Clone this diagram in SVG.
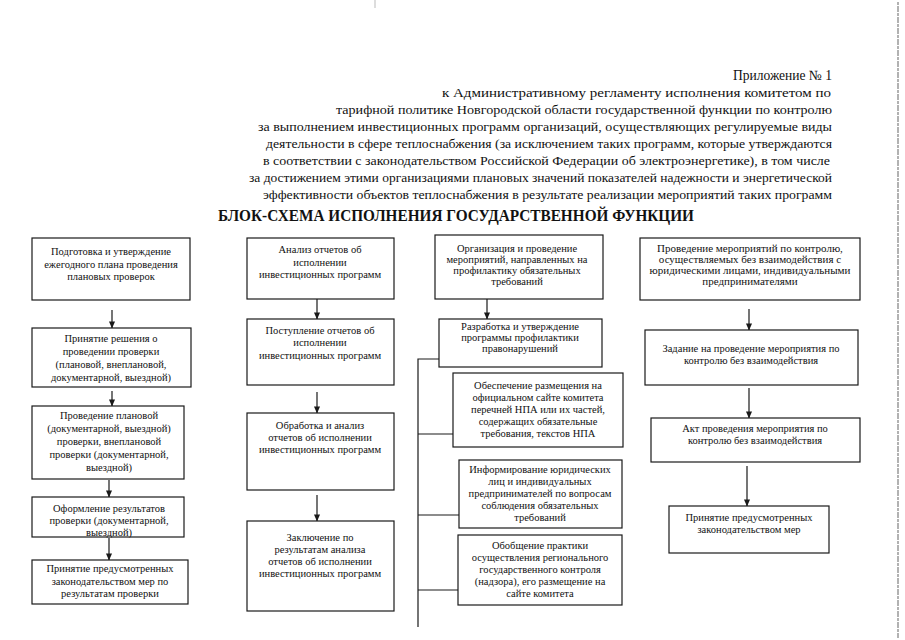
<svg xmlns="http://www.w3.org/2000/svg" width="905" height="640" viewBox="0 0 905 640">
<style>
.bg{fill:#fff}
.box{fill:#fff;stroke:#1a1a1a;stroke-width:1.2}
text{font-family:'Liberation Serif','DejaVu Serif','Times New Roman',serif}
.t{font-size:10.5px;fill:#111;text-anchor:middle}
.h{font-size:13.5px;fill:#111;text-anchor:end}
.title{font-size:16px;font-weight:bold;fill:#111;text-anchor:middle}
.ln{stroke:#1a1a1a;stroke-width:1.2;fill:none}
.ar{stroke:#1a1a1a;stroke-width:1.2;fill:none;marker-end:url(#ah)}
.scan{stroke:#999;stroke-width:1.5;fill:none;stroke-dasharray:3 1 6 1}
</style>
<defs>
<marker id="ah" viewBox="0 0 8 8" refX="7.5" refY="4" markerWidth="7" markerHeight="7" markerUnits="userSpaceOnUse" orient="auto">
<path d="M0,0.5 L8,4 L0,7.5 Z" fill="#1a1a1a"/>
</marker>
</defs>
<rect class="bg" x="0" y="0" width="905" height="640"/>
<line class="scan" x1="898" y1="2" x2="898" y2="638"/>
<line x1="375" y1="0" x2="375" y2="8" stroke="#bbb" stroke-width="1"/>

<g id="header">
<text class="h" x="832" y="80" style="font-size:14px" textLength="99" lengthAdjust="spacingAndGlyphs">Приложение № 1</text>
<text class="h" x="831" y="97" textLength="389" lengthAdjust="spacingAndGlyphs">к Административному регламенту  исполнения комитетом по</text>
<text class="h" x="832" y="114" textLength="496" lengthAdjust="spacingAndGlyphs">тарифной политике Новгородской области  государственной функции  по контролю</text>
<text class="h" x="832" y="131" textLength="574" lengthAdjust="spacingAndGlyphs">за  выполнением инвестиционных программ организаций, осуществляющих регулируемые виды</text>
<text class="h" x="832" y="148" textLength="566" lengthAdjust="spacingAndGlyphs">деятельности в сфере теплоснабжения (за исключением таких программ, которые утверждаются</text>
<text class="h" x="830" y="165" textLength="567" lengthAdjust="spacingAndGlyphs">в соответствии с законодательством  Российской Федерации об электроэнергетике), в том числе</text>
<text class="h" x="832" y="182" textLength="583" lengthAdjust="spacingAndGlyphs">за достижением этими организациями плановых значений  показателей надежности и энергетической</text>
<text class="h" x="832" y="199" textLength="569" lengthAdjust="spacingAndGlyphs">эффективности  объектов  теплоснабжения в результате реализации мероприятий таких программ</text>
<text class="title" x="456" y="221" textLength="476" lengthAdjust="spacingAndGlyphs">БЛОК-СХЕМА ИСПОЛНЕНИЯ ГОСУДАРСТВЕННОЙ ФУНКЦИИ</text>
</g>

<g id="connectors">
<line class="ar" x1="112" y1="310" x2="112" y2="328"/>
<line class="ar" x1="112" y1="391" x2="112" y2="406"/>
<line class="ar" x1="109" y1="480" x2="109" y2="497"/>
<line class="ar" x1="109" y1="538" x2="109" y2="560"/>
<line class="ar" x1="317" y1="299" x2="317" y2="319"/>
<line class="ar" x1="317" y1="392" x2="317" y2="413"/>
<line class="ar" x1="317" y1="495" x2="317" y2="521"/>
<line class="ar" x1="487" y1="299" x2="487" y2="319"/>
<line class="ar" x1="749" y1="309" x2="749" y2="330"/>
<line class="ar" x1="749" y1="388" x2="749" y2="418"/>
<line class="ar" x1="747" y1="466" x2="747" y2="506"/>
<polyline class="ln" points="439,359 418,359 418,627"/>
<line class="ln" x1="418" y1="434" x2="453" y2="434"/>
<line class="ln" x1="418" y1="515" x2="459" y2="515"/>
<line class="ln" x1="418" y1="590" x2="458" y2="590"/>
</g>

<g id="c1n1">
<rect class="box" x="32" y="238" width="158" height="62"/>
<text class="t" x="111" y="255">Подготовка и утверждение</text>
<text class="t" x="111" y="268">ежегодного плана проведения</text>
<text class="t" x="111" y="280">плановых проверок</text>
</g>
<g id="c1n2">
<rect class="box" x="32" y="328" width="159" height="59"/>
<text class="t" x="111" y="342">Принятие решения о</text>
<text class="t" x="111" y="355">проведении проверки</text>
<text class="t" x="111" y="368">(плановой, внеплановой,</text>
<text class="t" x="111" y="381">документарной, выездной)</text>
</g>
<g id="c1n3">
<rect class="box" x="32" y="406" width="152" height="73"/>
<text class="t" x="109" y="419">Проведение плановой</text>
<text class="t" x="109" y="432">(документарной, выездной)</text>
<text class="t" x="109" y="445">проверки, внеплановой</text>
<text class="t" x="109" y="458">проверки (документарной,</text>
<text class="t" x="109" y="471">выездной)</text>
</g>
<g id="c1n4">
<rect class="box" x="32" y="497" width="152" height="40"/>
<text class="t" x="109" y="512">Оформление результатов</text>
<text class="t" x="109" y="524">проверки (документарной,</text>
<text class="t" x="109" y="536">выездной)</text>
</g>
<g id="c1n5">
<rect class="box" x="32" y="560" width="156" height="44"/>
<text class="t" x="110" y="572">Принятие предусмотренных</text>
<text class="t" x="110" y="585">законодательством мер по</text>
<text class="t" x="110" y="597">результатам проверки</text>
</g>

<g id="c2n1">
<rect class="box" x="247" y="238" width="147" height="61"/>
<text class="t" x="320" y="253">Анализ  отчетов об</text>
<text class="t" x="320" y="266">исполнении</text>
<text class="t" x="320" y="278">инвестиционных программ</text>
</g>
<g id="c2n2">
<rect class="box" x="247" y="319" width="147" height="66"/>
<text class="t" x="320" y="334">Поступление отчетов  об</text>
<text class="t" x="320" y="346">исполнении</text>
<text class="t" x="320" y="359">инвестиционных программ</text>
</g>
<g id="c2n3">
<rect class="box" x="247" y="413" width="147" height="77"/>
<text class="t" x="320" y="429">Обработка и анализ</text>
<text class="t" x="320" y="441">отчетов об исполнении</text>
<text class="t" x="320" y="453">инвестиционных программ</text>
</g>
<g id="c2n4">
<rect class="box" x="247" y="521" width="147" height="90"/>
<text class="t" x="320" y="541">Заключение по</text>
<text class="t" x="320" y="553">результатам анализа</text>
<text class="t" x="320" y="565">отчетов об исполнении</text>
<text class="t" x="320" y="577">инвестиционных программ</text>
</g>

<g id="c3n1">
<rect class="box" x="435" y="235" width="168" height="64"/>
<text class="t" x="517" y="252">Организация и проведение</text>
<text class="t" x="517" y="263">мероприятий, направленных на</text>
<text class="t" x="517" y="274">профилактику обязательных</text>
<text class="t" x="517" y="285">требований</text>
</g>
<g id="c3n2">
<rect class="box" x="439" y="319" width="163" height="48"/>
<text class="t" x="520" y="330">Разработка и утверждение</text>
<text class="t" x="520" y="341">программы профилактики</text>
<text class="t" x="520" y="352">правонарушений</text>
</g>
<g id="c3n3">
<rect class="box" x="453" y="373" width="170" height="74"/>
<text class="t" x="538" y="389">Обеспечение размещения на</text>
<text class="t" x="538" y="401">официальном сайте комитета</text>
<text class="t" x="538" y="413">перечней НПА или их частей,</text>
<text class="t" x="538" y="425">содержащих обязательные</text>
<text class="t" x="538" y="437">требования, текстов НПА</text>
</g>
<g id="c3n4">
<rect class="box" x="459" y="460" width="163" height="68"/>
<text class="t" x="540" y="473">Информирование юридических</text>
<text class="t" x="540" y="485">лиц и индивидуальных</text>
<text class="t" x="540" y="497">предпринимателей по вопросам</text>
<text class="t" x="540" y="509">соблюдения обязательных</text>
<text class="t" x="540" y="521">требований</text>
</g>
<g id="c3n5">
<rect class="box" x="458" y="535" width="164" height="70"/>
<text class="t" x="540" y="549">Обобщение практики</text>
<text class="t" x="540" y="561">осуществления регионального</text>
<text class="t" x="540" y="573">государственного контроля</text>
<text class="t" x="540" y="585">(надзора), его размещение на</text>
<text class="t" x="540" y="597">сайте комитета</text>
</g>

<g id="c4n1">
<rect class="box" x="640" y="238" width="220" height="62"/>
<text class="t" x="750" y="252" style="font-size:11px">Проведение мероприятий по контролю,</text>
<text class="t" x="750" y="263" style="font-size:11px">осуществляемых без взаимодействия с</text>
<text class="t" x="750" y="274" style="font-size:11px">юридическими лицами, индивидуальными</text>
<text class="t" x="750" y="285" style="font-size:11px">предпринимателями</text>
</g>
<g id="c4n2">
<rect class="box" x="645" y="330" width="213" height="55"/>
<text class="t" x="751" y="352">Задание на проведение мероприятия по</text>
<text class="t" x="751" y="364">контролю без взаимодействия</text>
</g>
<g id="c4n3">
<rect class="box" x="651" y="418" width="209" height="44"/>
<text class="t" x="755" y="432">Акт проведения мероприятия по</text>
<text class="t" x="755" y="444">контролю без взаимодействия</text>
</g>
<g id="c4n4">
<rect class="box" x="669" y="506" width="160" height="47"/>
<text class="t" x="749" y="521">Принятие предусмотренных</text>
<text class="t" x="749" y="533">законодательством мер</text>
</g>
</svg>
